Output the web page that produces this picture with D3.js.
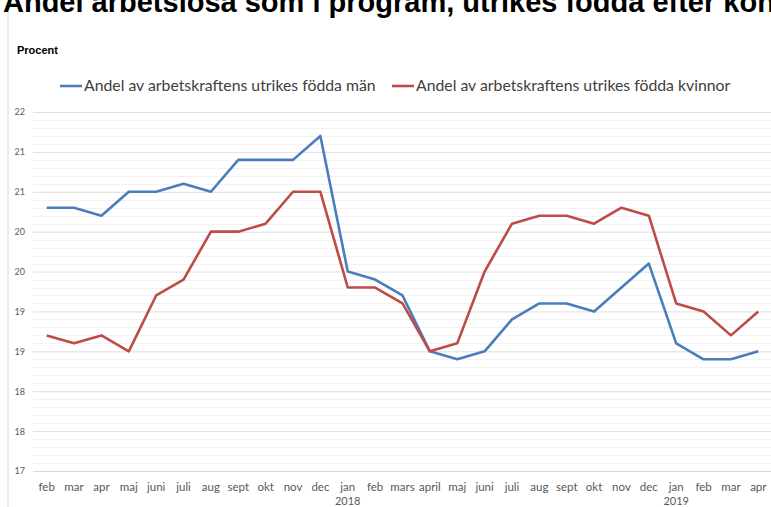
<!DOCTYPE html>
<html>
<head>
<meta charset="utf-8">
<script src="https://cdn.jsdelivr.net/npm/d3@7"></script>
<style>
  body { margin: 0; background: #fff; }
  svg { display: block; }
</style>
</head>
<body>
<svg id="chart"></svg>
<script>
const width = 771;
const height = 507;

// Data
const months = ['feb', 'mar', 'apr', 'maj', 'juni', 'juli', 'aug', 'sept', 'okt', 'nov', 'dec',
    'jan', 'feb', 'mars', 'april', 'maj', 'juni', 'juli', 'aug', 'sept', 'okt', 'nov', 'dec',
    'jan', 'feb', 'mar', 'apr'];
const yearLabels = [{ index: 11, text: '2018' }, { index: 23, text: '2019' }];
const men = [20.3, 20.3, 20.2, 20.5, 20.5, 20.6, 20.5, 20.9, 20.9, 20.9, 21.2,
    19.5, 19.4, 19.2, 18.5, 18.4, 18.5, 18.9, 19.1, 19.1, 19.0, 19.3, 19.6,
    18.6, 18.4, 18.4, 18.5];
const women = [18.7, 18.6, 18.7, 18.5, 19.2, 19.4, 20.0, 20.0, 20.1, 20.5, 20.5,
    19.3, 19.3, 19.1, 18.5, 18.6, 19.5, 20.1, 20.2, 20.2, 20.1, 20.3, 20.2,
    19.1, 19.0, 18.7, 19.0];
const yTicks = [17, 17.5, 18, 18.5, 19, 19.5, 20, 20.5, 21, 21.5];
const yTickLabels = ['17', '18', '18', '19', '19', '20', '20', '21', '21', '22'];
const seriesNames = ['Andel av arbetskraftens utrikes födda män', 'Andel av arbetskraftens utrikes födda kvinnor'];
const seriesColors = ['#4a7ebb', '#be4b48'];

const svg = d3.select('#chart')
    .attr('width', width)
    .attr('height', height);

// Scales
const x = d3.scaleBand()
    .domain(d3.range(months.length))
    .range([33, 772]);
const y = d3.scaleLinear()
    .domain([17, 21.5])
    .range([471, 112]);
const cx = i => x(i) + x.bandwidth() / 2;

// Frame border on the left
svg.append('line')
    .attr('x1', 8).attr('x2', 8)
    .attr('y1', 8).attr('y2', height)
    .attr('stroke', '#d9d9d9');

// Title, cut off at the top like in the source image
svg.append('text')
    .attr('x', 3)
    .attr('y', 12)
    .attr('font-family', 'Liberation Sans, Arial, sans-serif')
    .attr('font-weight', 'bold')
    .attr('font-size', 29)
    .attr('fill', '#000')
    .text('Andel arbetslösa som i program, utrikes födda efter kön');

svg.append('text')
    .attr('x', 17)
    .attr('y', 54)
    .attr('font-family', 'Liberation Sans, Arial, sans-serif')
    .attr('font-weight', 'bold')
    .attr('font-size', 11)
    .attr('fill', '#000')
    .text('Procent');

// Minor gridlines
const minor = d3.range(17.1, 21.51, 0.1).filter(v => Math.abs(v * 2 - Math.round(v * 2)) > 0.01);
svg.append('g')
    .selectAll('line')
    .data(minor)
    .join('line')
    .attr('x1', 33).attr('x2', 772)
    .attr('y1', d => Math.round(y(d)) + 0.5)
    .attr('y2', d => Math.round(y(d)) + 0.5)
    .attr('stroke', '#f2f2f2');

// Major gridlines + y labels
const yAxis = d3.axisLeft(y)
    .tickValues(yTicks)
    .tickSize(-(772 - 33))
    .tickPadding(8)
    .tickFormat((d, i) => yTickLabels[i]);
const gy = svg.append('g')
    .attr('transform', 'translate(33,0)')
    .call(yAxis);
gy.select('.domain').remove();
gy.selectAll('.tick line').attr('stroke', '#dedede');
gy.selectAll('.tick text')
    .attr('font-family', 'Lato, sans-serif')
    .attr('font-size', 9)
    .attr('fill', '#595959');

// x axis
const xAxis = d3.axisBottom(x)
    .tickSize(0)
    .tickPadding(12)
    .tickFormat(i => months[i]);
const gx = svg.append('g')
    .attr('transform', 'translate(0,471)')
    .call(xAxis);
gx.select('.domain').attr('stroke', '#d9d9d9');
gx.selectAll('.tick text')
    .attr('font-family', 'Lato, sans-serif')
    .attr('font-size', 11.5)
    .attr('fill', '#595959');

svg.append('g')
    .selectAll('text')
    .data(yearLabels)
    .join('text')
    .attr('x', d => cx(d.index))
    .attr('y', 505)
    .attr('text-anchor', 'middle')
    .attr('font-family', 'Lato, sans-serif')
    .attr('font-size', 11)
    .attr('fill', '#595959')
    .text(d => d.text);

// Lines
const line = d3.line()
    .x((d, i) => cx(i))
    .y(d => y(d));
[men, women].forEach((series, k) => {
    svg.append('path')
        .datum(series)
        .attr('fill', 'none')
        .attr('stroke', seriesColors[k])
        .attr('stroke-width', 2.6)
        .attr('stroke-linejoin', 'round')
        .attr('d', line);
});

// Legend
const legendX = [60, 392];
const legend = svg.append('g')
    .selectAll('g')
    .data(seriesNames)
    .join('g')
    .attr('transform', (d, i) => `translate(${legendX[i]},86)`);
legend.append('line')
    .attr('x1', 0).attr('x2', 22)
    .attr('stroke', (d, i) => seriesColors[i])
    .attr('stroke-width', 2.6);
legend.append('text')
    .attr('x', 24)
    .attr('y', 5)
    .attr('font-family', 'Lato, sans-serif')
    .attr('font-size', 15.8)
    .attr('fill', '#404040')
    .text(d => d);
</script>
</body>
</html>
